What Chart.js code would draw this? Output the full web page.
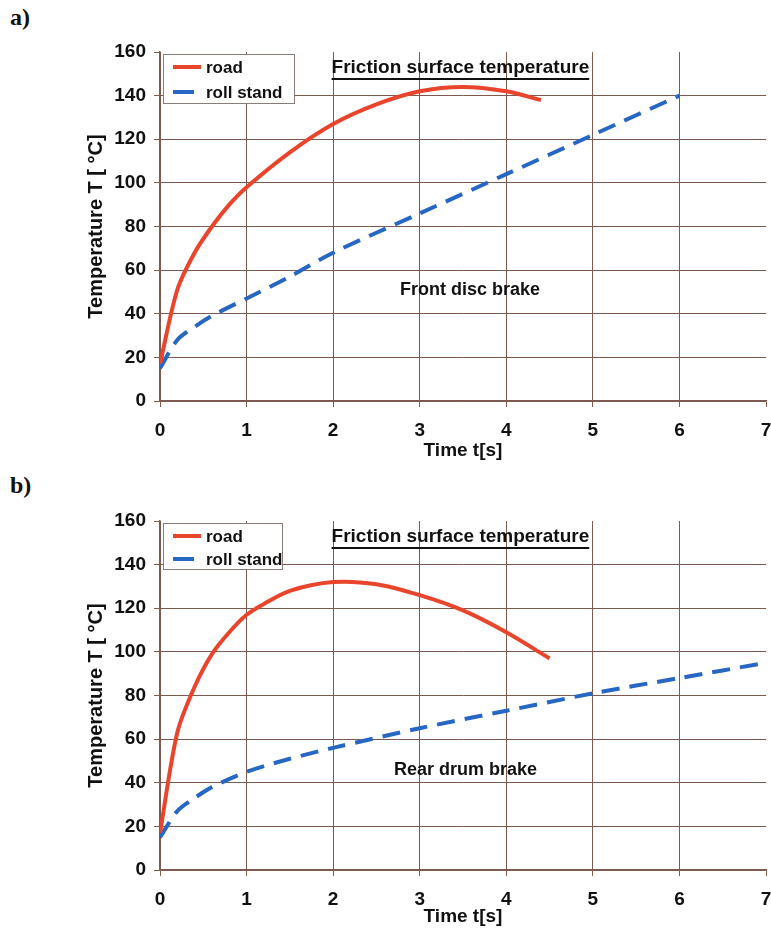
<!DOCTYPE html>
<html>
<head>
<meta charset="utf-8">
<script src="https://cdn.jsdelivr.net/npm/chart.js@4.4.1/dist/chart.umd.min.js"></script>
<style>
  body { margin: 0; background: #fff; width: 771px; height: 928px; overflow: hidden; position: relative; }
  .panel { position: absolute; left: 0; width: 771px; height: 464px; }
  .tag { position: absolute; left: 10px; font: bold 24px "Liberation Serif", "DejaVu Serif", serif; color: #111; }
</style>
</head>
<body>
<div class="tag" style="top:4px">a)</div>
<div class="tag" style="top:472px">b)</div>
<div class="panel" style="top:0"><canvas id="chartA" width="771" height="464"></canvas></div>
<div class="panel" style="top:464px"><canvas id="chartB" width="771" height="464"></canvas></div>
<script>
// front disc brake
var frontRoadTime = [0, 0.2, 0.4, 0.6, 0.8, 1, 1.5, 2, 2.5, 3, 3.5, 4, 4.4];
var frontRoadTemp = [17, 51, 68, 80, 90, 98, 114, 127, 136, 142, 144, 142, 138];
var frontStandTime = [0, 0.2, 0.4, 0.6, 1, 1.5, 2, 3, 4, 5, 6];
var frontStandTemp = [15, 28, 34, 39, 47, 57, 68, 86, 104, 122, 140];

// rear drum brake
var rearRoadTime = [0, 0.2, 0.4, 0.6, 0.8, 1, 1.2, 1.5, 2, 2.5, 3, 3.5, 4, 4.5];
var rearRoadTemp = [17, 63, 84, 99, 109, 117, 122, 128, 132, 131, 126, 119, 109, 97];
var rearStandTime = [0, 0.2, 0.4, 0.6, 1, 1.5, 2, 3, 4, 5, 6, 7];
var rearStandTemp = [15, 27, 33, 38, 45, 51, 56, 65, 73, 81, 88, 95];

var seriesNames = ["road", "roll stand"];
var timeTicks = [0, 1, 2, 3, 4, 5, 6, 7];
var tempTicks = [0, 20, 40, 60, 80, 100, 120, 140, 160];

var RED = "#e8452c";
var BLUE = "#2767c4";
var GRID = "#7d5a50";
var FONT = "'Liberation Sans', Arial, sans-serif";

function pts(xs, ys) {
  return xs.map(function (x, i) { return { x: x, y: ys[i] }; });
}

// legend box + text annotations drawn inside the plot area
var notes = {
  id: "notes",
  afterDraw: function (chart) {
    var o = chart.options.plugins.notes;
    var ctx = chart.ctx;
    var xs = chart.scales.x, ys = chart.scales.y;
    var a = chart.chartArea;
    ctx.save();
    // legend
    ctx.fillStyle = "#fff";
    ctx.strokeStyle = "#8a7c78";
    ctx.lineWidth = 1;
    ctx.fillRect(a.left + 3, a.top + 2, o.legendW, o.legendH);
    ctx.strokeRect(a.left + 3.5, a.top + 2.5, o.legendW, o.legendH);
    ctx.font = "bold 17px " + FONT;
    ctx.textBaseline = "middle";
    var rows = [RED, BLUE];
    rows.forEach(function (col, i) {
      var y = a.top + 15 + i * o.rowGap;
      ctx.beginPath();
      ctx.strokeStyle = col;
      ctx.lineWidth = 4;
      ctx.moveTo(a.left + 13, y);
      ctx.lineTo(a.left + (i ? 34 : 41), y);
      ctx.stroke();
      ctx.fillStyle = "#111";
      ctx.fillText(seriesNames[i], a.left + 46, y + 1);
    });
    // heading, underlined
    ctx.font = "bold 19px " + FONT;
    ctx.textAlign = "center";
    var hx = xs.getPixelForValue(3.47), hy = a.top + 16;
    var head = "Friction surface temperature";
    ctx.fillText(head, hx, hy);
    var w = ctx.measureText(head).width;
    ctx.fillRect(hx - w / 2, hy + 10, w, 2);
    // brake label
    ctx.font = "bold 18px " + FONT;
    ctx.fillText(o.label, xs.getPixelForValue(o.labelX), ys.getPixelForValue(o.labelY));
    ctx.restore();
  }
};

function makeChart(id, road, stand, cfg) {
  return new Chart(document.getElementById(id), {
    type: "line",
    data: {
      datasets: [
        { label: seriesNames[0], data: road, borderColor: RED, borderWidth: 4, pointRadius: 0, tension: 0.3, fill: false },
        { label: seriesNames[1], data: stand, borderColor: BLUE, borderWidth: 4, borderDash: [18, 10], pointRadius: 0, tension: 0.3, fill: false }
      ]
    },
    plugins: [notes],
    options: {
      responsive: false,
      animation: false,
      events: [],
      layout: { padding: { left: 84, right: 5, top: cfg.top, bottom: cfg.bottom } },
      plugins: {
        legend: { display: false },
        tooltip: { enabled: false },
        notes: cfg
      },
      scales: {
        x: {
          type: "linear", min: 0, max: 7,
          afterBuildTicks: function (s) { s.ticks = timeTicks.map(function (v) { return { value: v }; }); },
          afterFit: function (s) { s.height = cfg.xHeight; s.paddingLeft = 0; s.paddingRight = 0; },
          grid: {
            color: function (c) { return c.tick && c.tick.value === 7 ? "rgba(0,0,0,0)" : GRID; },
            tickColor: GRID, tickLength: 6, lineWidth: 1
          },
          border: { display: true, color: GRID, width: 1.5 },
          ticks: { color: "#111", font: { family: FONT, size: 19, weight: "bold" }, padding: 12, maxRotation: 0 },
          title: { display: true, text: "Time t[s]", color: "#111", font: { family: FONT, size: 19, weight: "bold" }, padding: 0 }
        },
        y: {
          min: 0, max: 160,
          afterBuildTicks: function (s) { s.ticks = tempTicks.map(function (v) { return { value: v }; }); },
          afterFit: function (s) { s.width = 76; s.paddingTop = 0; s.paddingBottom = 0; },
          grid: {
            color: function (c) { return c.tick && c.tick.value === 160 ? "rgba(0,0,0,0)" : GRID; },
            tickColor: GRID, tickLength: 6, lineWidth: 1
          },
          border: { display: true, color: GRID, width: 1.5 },
          ticks: { color: "#111", font: { family: FONT, size: 19, weight: "bold" }, padding: 8 },
          title: { display: true, text: "Temperature T [ °C]", color: "#111", font: { family: FONT, size: 20, weight: "bold" }, padding: 0 }
        }
      }
    }
  });
}

makeChart("chartA", pts(frontRoadTime, frontRoadTemp), pts(frontStandTime, frontStandTemp),
  { top: 52, bottom: 2, xHeight: 61, label: "Front disc brake", labelX: 3.58, labelY: 51, legendW: 131, legendH: 49, rowGap: 25 });
makeChart("chartB", pts(rearRoadTime, rearRoadTemp), pts(rearStandTime, rearStandTemp),
  { top: 57, bottom: 0, xHeight: 58, label: "Rear drum brake", labelX: 3.53, labelY: 46, legendW: 119, legendH: 46, rowGap: 23 });
</script>
</body>
</html>
